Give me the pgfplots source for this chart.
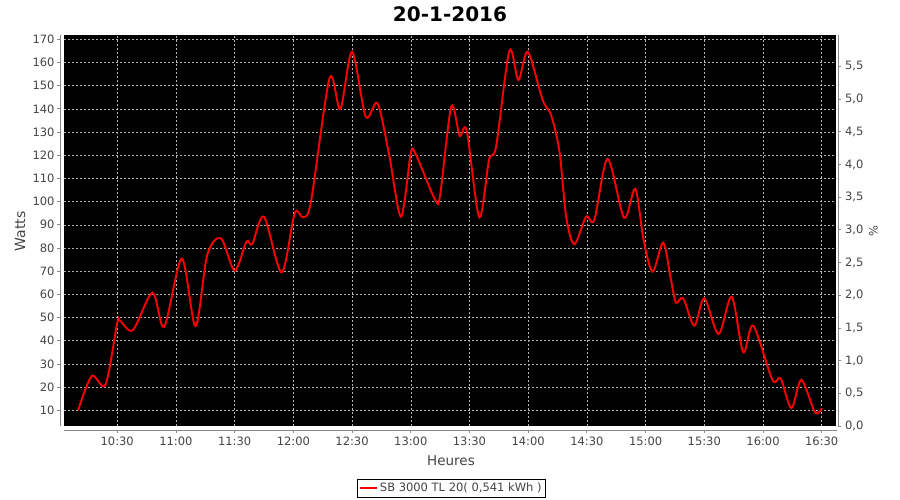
\documentclass[border=0pt]{standalone}
\usepackage{pgfplots}
\pgfplotsset{compat=1.18}
\usepackage{fontspec}
\setmainfont{DejaVu Sans}
\definecolor{lab}{HTML}{444444}
\definecolor{axl}{HTML}{888888}
\definecolor{grd}{HTML}{B4B4B4}
\begin{document}
\begin{tikzpicture}[x=1pt,y=1pt]
\useasboundingbox (0,0) rectangle (900,-500);
\begin{axis}[
  at={(64pt,-426pt)}, anchor=south west,
  width=772pt, height=391pt, scale only axis,
  xmin=602.8, xmax=997.3, ymin=3.23, ymax=171.85,
  axis background/.style={fill=black},
  axis line style={draw=none},
  tick pos=left,
  xtick={630,660,...,990},
  xticklabels={10:30,11:00,11:30,12:00,12:30,13:00,13:30,14:00,14:30,15:00,15:30,16:00,16:30},
  ytick={10,20,...,170},
  grid=major,
  major grid style={grd, line width=0.5pt, dash pattern=on 2pt off 2pt},
  tick align=outside, major tick length=2.5pt,
  xtick style={axl, line width=0.8pt, yshift=-4pt},
  ytick style={axl, line width=0.8pt, xshift=-4pt},
  ticklabel style={font=\fontsize{11.5}{13}\selectfont, text=lab},
  xticklabel style={yshift=-4.5pt},
  yticklabel style={xshift=-3.5pt},
  /pgf/number format/assume math mode=true,
  legend style={at={(axis description cs:0.5017,-0.1593)}, anchor=center,
    draw=black, line width=0.8pt, fill=white, font=\fontsize{11.5}{13}\selectfont,
    text=lab, inner xsep=2pt, inner ysep=1.5pt},
  legend cell align=left,
]
\addplot[red, line width=1.9pt, smooth, tension=0.5] coordinates {
(610,10) (617,24.8) (624,21) (630,47.6) (631.5,48.6) (638,44.6) (648,60.7)
(654,46) (663,75.4) (670,46.3) (676,77) (683,84.2) (690,70.2) (696,82.7)
(699,81.7) (705,93.5) (714,69.5) (720.7,95) (725,93.2) (729,100)
(738.5,153.2) (744,139.9) (750,164.6) (757,136.6) (763,142.4) (769,120)
(775,93.5) (780,120.8) (782,121.3) (786,113.6) (792.7,100.4) (795,102.8)
(800.7,140.9) (805,128.4) (808.6,130.6) (815,93.2) (820,118) (823.6,123.7)
(830.4,165) (835,152.4) (839.8,164.6) (847.4,143.8) (851.7,137.3) (856,121.5)
(859.4,93.5) (863.6,81.6) (869.6,93.5) (873.8,92.1) (880.6,118.4) (889,93)
(894.7,105.5) (899,83.4) (903.6,69.8) (909,82.3) (913,66.2) (915.5,56.4)
(919.2,58.3) (924.9,46.5) (930,58.3) (937.3,42.9) (944,59) (949.9,35)
(955,46.5) (964.8,23.1) (969,23.8) (974.5,10.9) (979.6,23.1) (986.6,9)
(990,10.9)
};
\addlegendentry{SB 3000 TL 20( 0,541 kWh )}
\end{axis}
\begin{axis}[
  at={(64pt,-426pt)}, anchor=south west,
  width=772pt, height=391pt, scale only axis,
  xmin=602.8, xmax=997.3, ymin=0, ymax=5.98,
  hide x axis,
  axis line style={draw=none},
  ytick pos=right,
  ytick={0,0.5,...,5.5},
  tick align=outside, major tick length=2.5pt,
  ytick style={axl, line width=0.8pt, xshift=2pt},
  yticklabel style={font=\fontsize{11.5}{13}\selectfont, text=lab, xshift=3pt},
  /pgf/number format/.cd, fixed, fixed zerofill, precision=1, use comma, assume math mode=true,
]
\end{axis}
\draw[axl, line width=1pt] (60,-35) -- (60,-426);
\draw[axl, line width=1pt] (64,-430) -- (837,-430);
\draw[axl, line width=1pt] (838,-35) -- (838,-426);
\node[font=\bfseries\fontsize{20}{24}\selectfont] at (450,-14) {20-1-2016};
\node[rotate=90, text=lab, font=\fontsize{14}{16}\selectfont] at (20,-231.5) {Watts};
\node[text=lab, font=\fontsize{13.5}{16}\selectfont] at (451,-460.7) {Heures};
\node[rotate=90, text=lab, font=\fontsize{11.5}{13}\selectfont] at (873.5,-230.7) {\%};
\end{tikzpicture}
\end{document}
